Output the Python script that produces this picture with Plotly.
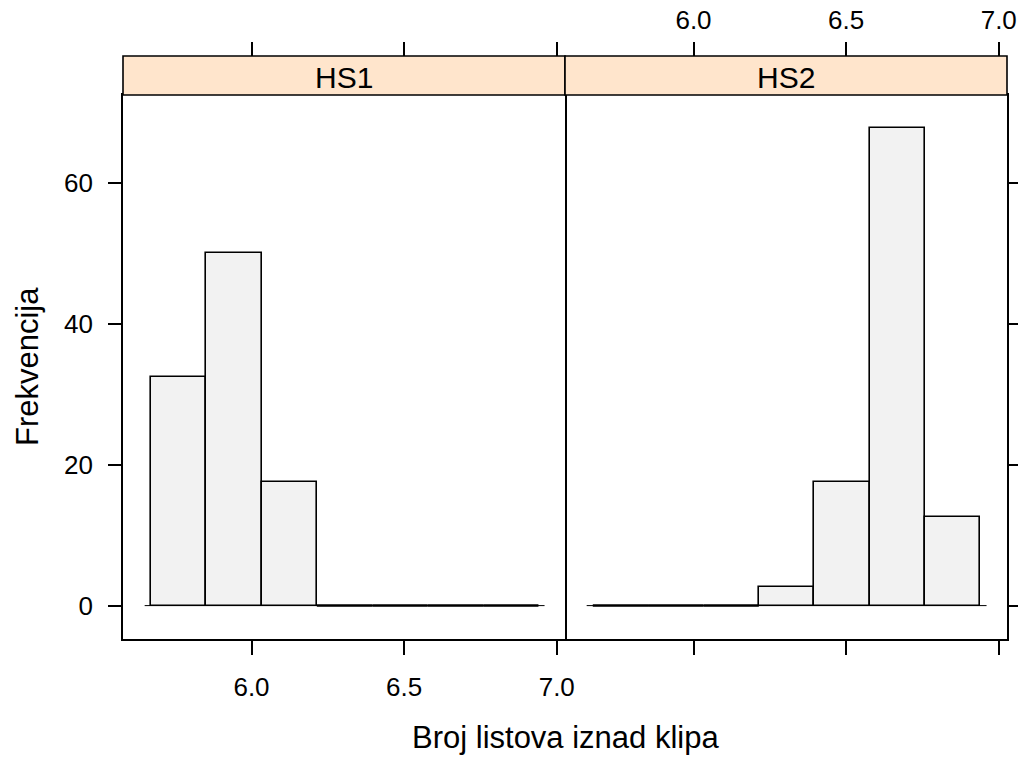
import plotly.graph_objects as go

# ---- data ----
bin_edges = [5.670, 5.851, 6.033, 6.214, 6.396, 6.577, 6.759, 6.940]
hs1_values = [32.4, 50.0, 17.6, 0.0, 0.0, 0.0, 0.0]
hs2_values = [0.0, 0.0, 0.0, 2.6, 17.6, 67.7, 12.5]
panel_names = ["HS1", "HS2"]
baseline_x = [5.65, 6.96]
x_ticks = [6.0, 6.5, 7.0]
x_ticklabels = ["6.0", "6.5", "7.0"]
y_ticks = [0, 20, 40, 60]
y_ticklabels = ["0", "20", "40", "60"]
x_title = "Broj listova iznad klipa"
y_title = "Frekvencija"

FONT = "Liberation Sans, Arial, Helvetica, sans-serif"
FILL = "#F2F2F2"
STRIP = "#FFE5CC"
LW = 1.6
TICKSIZE = 26

centers = [(bin_edges[i] + bin_edges[i + 1]) / 2 for i in range(len(bin_edges) - 1)]
widths = [bin_edges[i + 1] - bin_edges[i] for i in range(len(bin_edges) - 1)]

x_range = [5.579, 7.027]
ymax = max(max(hs1_values), max(hs2_values))
y_range = [-0.07 * ymax, 1.07 * ymax]

fig = go.Figure()

for k, vals in enumerate([hs1_values, hs2_values]):
    xa = "x" if k == 0 else "x2"
    ya = "y" if k == 0 else "y2"
    # baseline
    fig.add_trace(go.Scatter(x=baseline_x, y=[0, 0], mode="lines",
                             line=dict(color="black", width=1),
                             xaxis=xa, yaxis=ya, showlegend=False, hoverinfo="skip"))
    # zero-height bins drawn as flat segments
    zx, zy = [], []
    for i, v in enumerate(vals):
        if v == 0:
            zx += [bin_edges[i], bin_edges[i + 1], None]
            zy += [0, 0, None]
    fig.add_trace(go.Scatter(x=zx, y=zy, mode="lines",
                             line=dict(color="black", width=2.5),
                             xaxis=xa, yaxis=ya, showlegend=False, hoverinfo="skip"))
    nz = [i for i, v in enumerate(vals) if v > 0]
    fig.add_trace(go.Bar(x=[centers[i] for i in nz], y=[vals[i] for i in nz],
                         width=[widths[i] for i in nz],
                         marker=dict(color=FILL, line=dict(color="black", width=LW)),
                         xaxis=xa, yaxis=ya, showlegend=False))

# dummy traces to realise the top axes
fig.add_trace(go.Scatter(x=[], y=[], xaxis="x3", yaxis="y", showlegend=False))
fig.add_trace(go.Scatter(x=[], y=[], xaxis="x4", yaxis="y2", showlegend=False))

ydom_top = 544 / 583

common_x = dict(range=x_range, tickvals=x_ticks, ticktext=x_ticklabels,
                ticks="outside", ticklen=14, tickwidth=LW, tickcolor="black",
                showgrid=False, zeroline=False, automargin=False,
                tickfont=dict(family=FONT, size=TICKSIZE, color="black"))
fig.update_layout(
    width=1018, height=757,
    margin=dict(l=123, r=11, t=56, b=118, autoexpand=False),
    paper_bgcolor="white", plot_bgcolor="white",
    bargap=0,
    xaxis=dict(domain=[0, 0.5], anchor="y", showline=True, mirror=True,
               linecolor="black", linewidth=LW, ticklabelstandoff=10, **common_x),
    xaxis2=dict(domain=[0.5, 1], anchor="y2", showline=True, mirror=True,
                linecolor="black", linewidth=LW, showticklabels=False, **common_x),
    xaxis3=dict(overlaying="x", side="top", anchor="free", position=1,
                showline=False, showticklabels=False, **common_x),
    xaxis4=dict(overlaying="x2", side="top", anchor="free", position=1,
                showline=False, showticklabels=True, ticklabelstandoff=3, **common_x),
    yaxis=dict(domain=[0, ydom_top], anchor="x", range=y_range,
               tickvals=y_ticks, ticktext=y_ticklabels,
               ticks="outside", ticklen=13, tickwidth=LW, tickcolor="black",
               showline=True, mirror=True, linecolor="black", linewidth=LW,
               showgrid=False, zeroline=False, automargin=False,
               ticklabelstandoff=10,
               tickfont=dict(family=FONT, size=TICKSIZE, color="black")),
    yaxis2=dict(domain=[0, ydom_top], anchor="x2", matches="y", range=y_range,
                side="right", tickvals=y_ticks,
                ticks="outside", ticklen=13, tickwidth=LW, tickcolor="black",
                showline=True, mirror=False, linecolor="black", linewidth=LW,
                showgrid=False, zeroline=False, showticklabels=False,
                automargin=False),
)

# strips
for k, name in enumerate(panel_names):
    xr = "x domain" if k == 0 else "x2 domain"
    fig.add_shape(type="rect", xref=xr, yref="paper", x0=0, x1=1, y0=ydom_top, y1=1,
                  fillcolor=STRIP, line=dict(color="black", width=LW), layer="above")
    fig.add_annotation(xref=xr, yref="paper", x=0.5, y=(ydom_top + 1) / 2, yshift=-2,
                       text=name, showarrow=False, xanchor="center", yanchor="middle",
                       font=dict(family=FONT, size=30, color="black"))

fig.add_annotation(xref="paper", yref="paper", x=0.5, y=(639 - 737) / 583,
                   text=x_title, showarrow=False, xanchor="center", yanchor="middle",
                   font=dict(family=FONT, size=31, color="black"))
fig.add_annotation(xref="paper", yref="paper", x=(27 - 123) / 884, y=(639 - 367) / 583,
                   text=y_title, showarrow=False, textangle=-90,
                   xanchor="center", yanchor="middle",
                   font=dict(family=FONT, size=31, color="black"))

fig.write_html("out.html", config={"displayModeBar": False},
               post_script="document.body.style.margin='0';")
